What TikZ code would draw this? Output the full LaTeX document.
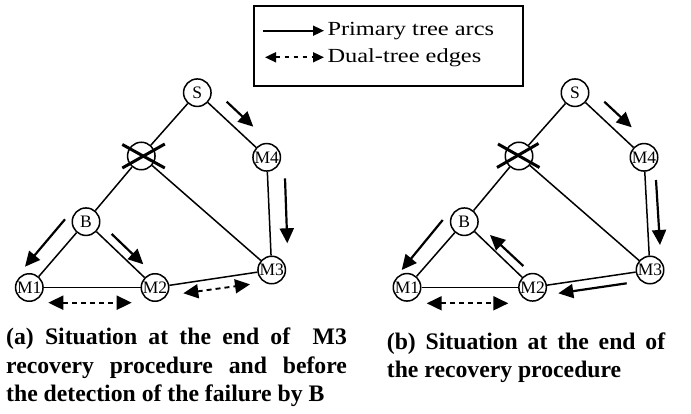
\documentclass[tikz,border=0pt]{standalone}
\usepackage{fontspec}
\setmainfont{Liberation Serif}
\usetikzlibrary{arrows.meta,calc}
\begin{document}
\begin{tikzpicture}[x=1pt,y=-1pt,
  nd/.style={circle,draw,line width=1.5pt,minimum size=27.5pt,inner sep=0pt,font=\fontsize{17.5}{17.5}\selectfont},
  edge/.style={line width=1.5pt},
  bigarr/.style={line width=2.2pt,-{Triangle[length=15pt,width=14pt]}},
  dualarr/.style={line width=1.9pt,dash pattern=on 5pt off 4pt,{Triangle[length=15pt,width=14pt]}-{Triangle[length=15pt,width=14pt]}},
  legarr/.style={line width=1.7pt,-{Triangle[length=11pt,width=10pt]}},
  legdual/.style={line width=1.7pt,dash pattern=on 4pt off 5pt,{Triangle[length=11pt,width=10pt]}-{Triangle[length=11pt,width=10pt]}},
  crossline/.style={line width=3pt},
  legtext/.style={anchor=base west,inner sep=0pt,font=\fontsize{20}{24}\selectfont},
  captext/.style={anchor=base west,inner sep=0pt,font=\fontsize{23.7}{28}\selectfont\bfseries},
]
\useasboundingbox (0,0) rectangle (691,414);

% legend
\node[draw,line width=1.8pt,minimum width=269pt,minimum height=80pt,inner sep=0pt,anchor=north west] (leg) at (252.7,5) {};
\coordinate (l1a) at (262.7,30.7);
\coordinate (l1b) at (324,30.7);
\coordinate (l2a) at (265,57.3);
\coordinate (l2b) at (324,57.3);
\draw[legarr] (l1a) -- (l1b);
\draw[legdual] (l2a) -- (l2b);
\node[legtext] (t1) at (327.3,35.7) {\scalebox{1.22}[1]{Primary tree arcs}};
\node[legtext] (t2) at (327.3,62.3) {\scalebox{1.22}[1]{Dual-tree edges}};

% left graph
\node[nd] (aS) at (197.3,92.7) {S};
\node[nd] (aX) at (141.3,156) {};
\node[nd] (aM4) at (266.7,157.3) {M4};
\node[nd] (aB) at (86,221.7) {B};
\node[nd] (aM1) at (29.3,287.5) {M1};
\node[nd] (aM2) at (155,287.5) {M2};
\node[nd] (aM3) at (271.7,270) {M3};
\draw[edge] (aS) -- (aX);
\draw[edge] (aX) -- (aB);
\draw[edge] (aX) -- (aM3);
\draw[edge] (aS) -- (aM4);
\draw[edge] (aM4) -- (aM3);
\draw[edge] (aB) -- (aM1);
\draw[edge] (aB) -- (aM2);
\draw[edge] (aM1) -- (aM2);
\draw[edge] (aM2) -- (aM3);
\draw[crossline] ($(aX)+(-19,-11.5)$) -- ($(aX)+(23.5,12)$);
\draw[crossline] ($(aX)+(-19,12)$) -- ($(aX)+(23.5,-12)$);
\coordinate (a1s) at (226.7,101.7); \coordinate (a1e) at (253.3,126.7);
\coordinate (a2s) at (285,178.3);   \coordinate (a2e) at (287.3,243.3);
\coordinate (a3s) at (65,219.3);    \coordinate (a3e) at (25,266.7);
\coordinate (a4s) at (111.7,234);   \coordinate (a4e) at (143.3,264.3);
\coordinate (a5s) at (48.3,302.7);  \coordinate (a5e) at (131.7,302.7);
\coordinate (a6s) at (183.3,293.3); \coordinate (a6e) at (250,284.3);
\draw[bigarr] (a1s) -- (a1e);
\draw[bigarr] (a2s) -- (a2e);
\draw[bigarr] (a3s) -- (a3e);
\draw[bigarr] (a4s) -- (a4e);
\draw[dualarr] (a5s) -- (a5e);
\draw[dualarr] (a6s) -- (a6e);

% right graph
\node[nd] (bS) at (575,92.7) {S};
\node[nd] (bX) at (519,156) {};
\node[nd] (bM4) at (644,157.3) {M4};
\node[nd] (bB) at (464.3,221.7) {B};
\node[nd] (bM1) at (407,287.3) {M1};
\node[nd] (bM2) at (532.6,287.3) {M2};
\node[nd] (bM3) at (650,270) {M3};
\draw[edge] (bS) -- (bX);
\draw[edge] (bX) -- (bB);
\draw[edge] (bX) -- (bM3);
\draw[edge] (bS) -- (bM4);
\draw[edge] (bM4) -- (bM3);
\draw[edge] (bB) -- (bM1);
\draw[edge] (bB) -- (bM2);
\draw[edge] (bM1) -- (bM2);
\draw[edge] (bM2) -- (bM3);
\draw[crossline] ($(bX)+(-21,-12)$) -- ($(bX)+(20.5,11.5)$);
\draw[crossline] ($(bX)+(-22,11.5)$) -- ($(bX)+(19.5,-12.5)$);
\coordinate (b1s) at (604.3,101.7); \coordinate (b1e) at (631.7,127.3);
\coordinate (b2s) at (656,180);     \coordinate (b2e) at (660,245);
\coordinate (b3s) at (442.7,220);   \coordinate (b3e) at (401.7,270);
\coordinate (b4s) at (523.3,266);   \coordinate (b4e) at (490,235);
\coordinate (b5s) at (626.7,283.3); \coordinate (b5e) at (558.3,293.3);
\coordinate (b6s) at (426.7,303.3); \coordinate (b6e) at (508.3,303.3);
\draw[bigarr] (b1s) -- (b1e);
\draw[bigarr] (b2s) -- (b2e);
\draw[bigarr] (b3s) -- (b3e);
\draw[bigarr] (b4s) -- (b4e);
\draw[bigarr] (b5s) -- (b5e);
\draw[dualarr] (b6s) -- (b6e);

% captions
\node[captext] (ca1) at (6,344.3) {\makebox[340.7pt][s]{(a) Situation at the end of \ M3}};
\node[captext] (ca2) at (6,373.3) {\makebox[340.7pt][s]{recovery procedure and before}};
\node[captext] (ca3) at (6,401.7) {the detection of the failure by B};
\node[captext] (cb1) at (386.7,349.3) {\makebox[278.3pt][s]{(b) Situation at the end of}};
\node[captext] (cb2) at (386.7,377.7) {the recovery procedure};
\end{tikzpicture}
\end{document}
